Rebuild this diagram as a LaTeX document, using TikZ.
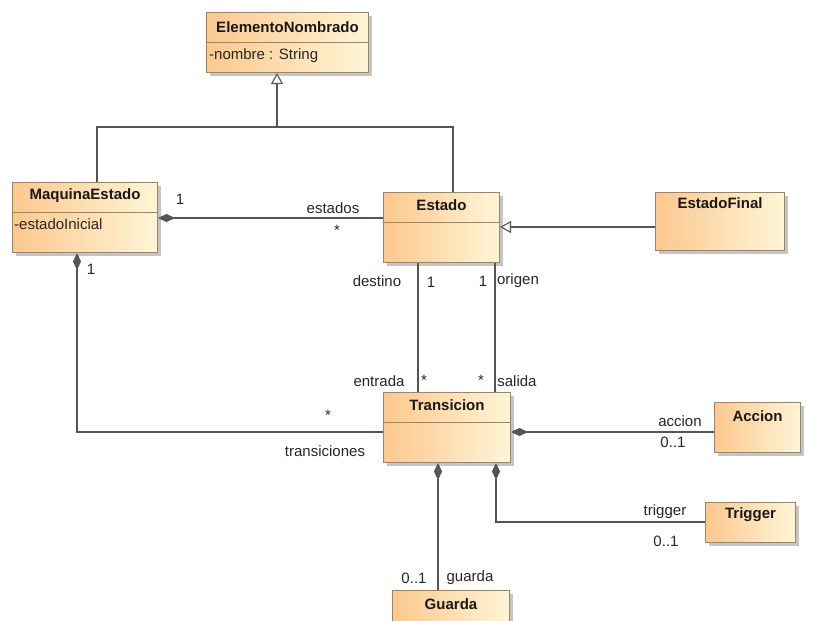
\documentclass[tikz,border=0pt]{standalone}
\usepackage{fontspec}
\setmainfont{Liberation Sans}
\usetikzlibrary{arrows.meta,shadows,calc}
\definecolor{boxA}{HTML}{FCC88E}
\definecolor{boxB}{HTML}{FFF5D6}
\definecolor{boxline}{HTML}{9C8466}
\definecolor{connc}{HTML}{555555}
\begin{document}
\begin{tikzpicture}[x=1pt,y=-1pt,
 umlbox/.style={draw=boxline, line width=1pt, left color=boxA, right color=boxB,
   drop shadow={shadow xshift=3pt,shadow yshift=-3pt,fill=black!45,opacity=0.5},
   anchor=north west, inner sep=0pt},
 title/.style={font=\fontsize{15}{17}\selectfont\bfseries, text=black!90, inner sep=0pt},
 attr/.style={font=\fontsize{15}{17}\selectfont, anchor=west, inner sep=0pt, text=black!85},
 lbl/.style={font=\fontsize{15}{17}\selectfont, inner sep=0pt, text=black!85},
 sepl/.style={draw=boxline, line width=1pt},
 conn/.style={draw=connc, line width=1.1pt},
 gen/.style={conn, -{Triangle[open,length=11pt,width=12pt,fill=white]}},
 comp/.style={conn, {Diamond[length=17pt,width=8pt,fill=connc]}-},
]
\fill[white] (0,0) rectangle (825,621);
\clip (0,0) rectangle (825,621);

% classes
\node[umlbox, minimum width=162pt, minimum height=60pt] (elem) at (206,12) {};
\node[title] at ($(elem.north)+(0,15)$) {ElementoNombrado};
\draw[sepl] ($(elem.north west)+(0,30)$) -- ($(elem.north east)+(0,30)$);
\node[attr] at ($(elem.north west)+(3,44)$) {-nombre : String};

\node[umlbox, minimum width=145pt, minimum height=70pt] (maq) at (12,182) {};
\node[title] at ($(maq.north)+(0,14)$) {MaquinaEstado};
\draw[sepl] ($(maq.north west)+(0,30)$) -- ($(maq.north east)+(0,30)$);
\node[attr] at ($(maq.north west)+(2,42)$) {-estadoInicial};

\node[umlbox, minimum width=116pt, minimum height=70pt] (est) at (383,192) {};
\node[title] at ($(est.north)+(0,13)$) {Estado};
\draw[sepl] ($(est.north west)+(0,30)$) -- ($(est.north east)+(0,30)$);

\node[umlbox, minimum width=129pt, minimum height=58pt] (fin) at (655,192) {};
\node[title] at ($(fin.north)+(0,11)$) {EstadoFinal};

\node[umlbox, minimum width=127pt, minimum height=70pt] (tr) at (383,392) {};
\node[title] at ($(tr.north)+(0,13)$) {Transicion};
\draw[sepl] ($(tr.north west)+(0,30)$) -- ($(tr.north east)+(0,30)$);

\node[umlbox, minimum width=86pt, minimum height=50pt] (acc) at (714,402) {};
\node[title] at ($(acc.north)+(0,14)$) {Accion};

\node[umlbox, minimum width=90pt, minimum height=40pt] (trg) at (705,502) {};
\node[title] at ($(trg.north)+(0,13)$) {Trigger};

\node[umlbox, minimum width=117pt, minimum height=45pt] (gua) at (392,590) {};
\node[title] at ($(gua.north)+(0,14)$) {Guarda};

% connectors
\draw[conn] ($(maq.north west)+(85,0)$) |- ($(est.north west)+(70,-65)$) -- ($(est.north west)+(70,0)$);
\draw[gen] ($(elem.south west)+(71,55)$) -- ($(elem.south west)+(71,0)$);
\draw[gen] ($(fin.north west)+(0,35)$) -- ($(est.north east)+(0,35)$);
\draw[comp] ($(maq.north east)+(0,36)$) -- ($(est.north west)+(0,26)$);
\draw[comp] ($(maq.south west)+(65,0)$) |- ($(tr.north west)+(0,40)$);
\draw[conn] ($(est.south west)+(35,0)$) -- ($(tr.north west)+(35,0)$);
\draw[conn] ($(est.south west)+(112,0)$) -- ($(tr.north west)+(112,0)$);
\draw[comp] ($(tr.north east)+(0,40)$) -- ($(acc.north west)+(0,30)$);
\draw[comp] ($(tr.south west)+(55,0)$) -- ($(gua.north west)+(46,0)$);
\draw[comp] ($(tr.south west)+(113,0)$) |- ($(trg.north west)+(0,20)$);

% labels
\node[lbl] (l1) at (180,199) {1};
\node[lbl] (l2) at (333,208) {estados};
\node[lbl] (l3) at (337,230) {*};
\node[lbl] (l4) at (91,269) {1};
\node[lbl] (l5) at (377,281) {destino};
\node[lbl] (l6) at (431,282) {1};
\node[lbl] (l7) at (483,281) {1};
\node[lbl] (l8) at (518,281) {origen};
\node[lbl] (l9) at (379,381) {entrada};
\node[lbl] (l10) at (424,380) {*};
\node[lbl] (l11) at (481,380) {*};
\node[lbl] (l12) at (517,381) {salida};
\node[lbl] (l13) at (328,415) {*};
\node[lbl] (l14) at (325,451) {transiciones};
\node[lbl] (l15) at (680,421) {accion};
\node[lbl] (l16) at (673,442) {0..1};
\node[lbl] (l17) at (665,512) {trigger};
\node[lbl] (l18) at (666,541) {0..1};
\node[lbl] (l19) at (414,578) {0..1};
\node[lbl] (l20) at (470,578) {guarda};
\end{tikzpicture}
\end{document}
